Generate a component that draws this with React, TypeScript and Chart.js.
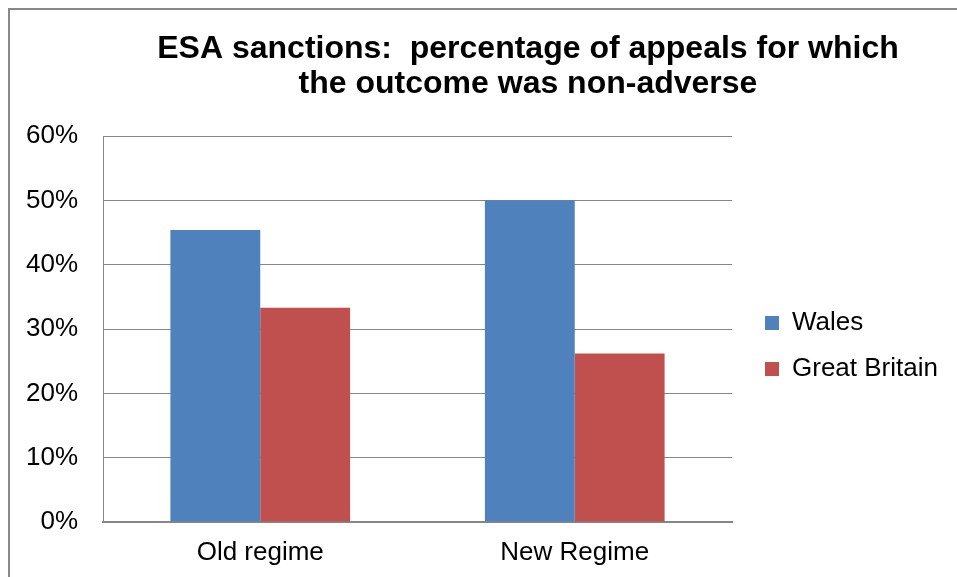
import React, { useEffect, useRef } from "react";
import { Chart, registerables } from "chart.js";

Chart.register(...registerables);

const categories = ["Old regime", "New Regime"];
const walesValues = [45.4, 50.0];
const gbValues = [33.3, 26.2];
const seriesNames = ["Wales", "Great Britain"];
const titleLines = [
  "ESA sanctions:  percentage of appeals for which",
  "the outcome was non-adverse",
];
const yMin = 0;
const yMax = 60;
const yStep = 10;

const FONT = '"Liberation Sans", Arial, sans-serif';
const GRID = "#868686";

const titlePlugin = {
  id: "customTitle",
  afterDraw(chart: any) {
    const ctx = chart.ctx;
    ctx.save();
    ctx.fillStyle = "#000000";
    ctx.font = `bold 32px ${FONT}`;
    ctx.textAlign = "center";
    ctx.textBaseline = "alphabetic";
    ctx.fillText(titleLines[0], 518, 48);
    ctx.fillText(titleLines[1], 518, 83);
    ctx.restore();
  },
};

export default function App() {
  const ref = useRef<HTMLCanvasElement | null>(null);

  useEffect(() => {
    if (!ref.current) return;
    const chart = new Chart(ref.current, {
      type: "bar",
      data: {
        labels: categories,
        datasets: [
          {
            label: seriesNames[0],
            data: walesValues,
            backgroundColor: "#4F81BD",
            borderWidth: 0,
            categoryPercentage: 0.5714,
            barPercentage: 1,
          },
          {
            label: seriesNames[1],
            data: gbValues,
            backgroundColor: "#C0504D",
            borderWidth: 0,
            categoryPercentage: 0.5714,
            barPercentage: 1,
          },
        ],
      },
      options: {
        responsive: false,
        animation: false,
        devicePixelRatio: 1,
        layout: { padding: { top: 126, left: 0, right: 12, bottom: 0 } },
        plugins: {
          title: { display: false },
          tooltip: { enabled: false },
          legend: {
            position: "right",
            fullSize: false,
            maxWidth: 200,
            title: {
              display: true,
              text: "",
              font: { size: 10 },
              padding: { top: 22, bottom: 0 },
            },
            labels: {
              boxWidth: 14,
              boxHeight: 14,
              padding: 20,
              color: "#000000",
              font: { family: FONT, size: 26 },
            },
          },
        },
        scales: {
          x: {
            grid: { display: false, drawTicks: false },
            border: { display: true, color: GRID, width: 2 },
            ticks: {
              color: "#000000",
              padding: 15,
              font: { family: FONT, size: 26 },
            },
            afterFit: (s: any) => {
              s.height = 55;
            },
          },
          y: {
            min: yMin,
            max: yMax,
            grid: { color: GRID, lineWidth: 1, drawTicks: false },
            border: { display: true, color: GRID, width: 1 },
            ticks: {
              stepSize: yStep,
              color: "#000000",
              padding: 25,
              font: { family: FONT, size: 26 },
              callback: (v: any) => `${v}%`,
            },
            afterFit: (s: any) => {
              s.width = 93;
            },
          },
          y2: {
            type: "linear",
            position: "right",
            display: true,
            grid: { display: false, drawTicks: false },
            border: { display: false },
            ticks: { display: false },
            afterFit: (s: any) => {
              s.width = 13;
            },
          },
        },
      },
      plugins: [titlePlugin],
    } as any);
    return () => chart.destroy();
  }, []);

  return (
    <div
      style={{
        position: "fixed",
        left: 8,
        top: 8,
        width: 1200,
        height: 800,
        border: "2px solid #898989",
        boxSizing: "border-box",
        background: "#ffffff",
      }}
    >
      <canvas ref={ref} width={947} height={567} style={{ display: "block" }} />
    </div>
  );
}
